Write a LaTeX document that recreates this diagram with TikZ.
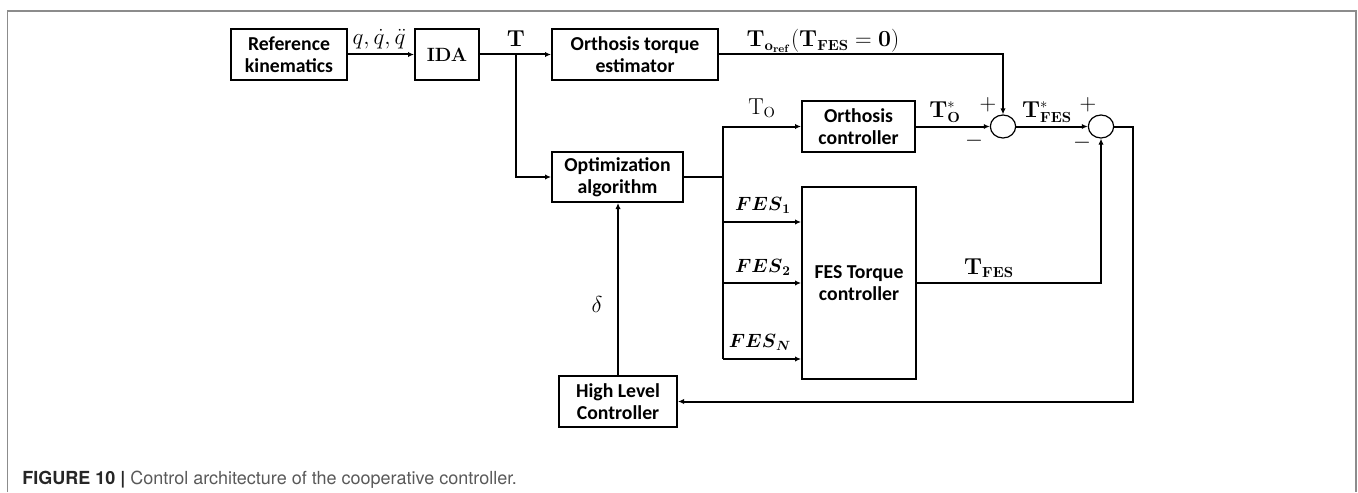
\documentclass[tikz,border=0pt]{standalone}
\usepackage[fleqn]{amsmath}
\usepackage{amssymb}
\usepackage[no-math]{fontspec}
\setmainfont{Carlito}
\newfontfamily\captionfont{TeX Gyre Heros}
\usetikzlibrary{calc,arrows.meta,shapes.geometric}

\begin{document}
\begin{tikzpicture}[x=0.75pt,y=-0.75pt,
    block/.style={draw,line width=1.5pt,inner sep=0pt,align=center,
      font=\fontsize{14.8}{16.5}\selectfont\bfseries,minimum height=38.25pt},
    sumnode/.style={draw,ellipse,line width=0.9pt,inner sep=0pt,
      minimum width=19pt,minimum height=17.25pt},
    wire/.style={line width=1.5pt},
    sig/.style={wire,-{Latex[length=4.5pt,width=4pt]}},
    lbl/.style={font=\fontsize{16}{19}\selectfont,inner sep=0pt}]
              \useasboundingbox (0,0) rectangle (1358,492);
              \draw[black!45,line width=1.1pt] (7.5,492) -- (7.5,11) -- (1356,11) -- (1356,492);

              \node[block,minimum width=87pt]                        (refkin)  at (289,54.5)  {Reference\\kinematics};
              \node[block,minimum width=48pt,font=\fontsize{15.5}{18}\selectfont] (ida) at (447,54.5) {$\mathbf{IDA}$};
              \node[block,minimum width=124.5pt]                     (torqest) at (635,54.5)  {Orthosis torque\\estimator};
              \node[block,minimum width=98.25pt,minimum height=37.5pt] (optim) at (617.5,177) {Optimization\\algorithm};
              \node[block,minimum width=84.75pt]                     (orthctl) at (858.5,126.5) {Orthosis\\controller};
              \node[block,minimum width=85.5pt,minimum height=144pt] (fesctl)  at (859,283)   {FES Torque\\controller};
              \node[block,minimum width=88.5pt]                      (hlc)     at (618,401.5) {High Level\\Controller};
              \node[sumnode] (sumo) at (1003,126.5) {};
              \node[sumnode] (sumf) at (1101,126.5) {};

              \coordinate (tsplit) at (516,54.5);
              \coordinate (bus)    at (723,177);
              \coordinate (fbk)    at (1133,401.5);
              \foreach \n/\y in {1/222,2/283,N/359} {\coordinate (fes\n) at (723,\y);};

              \path (refkin)  edge[sig] (ida)
                    (ida)     edge[sig] (torqest)
                    (orthctl) edge[sig] (sumo)
                    (sumo)    edge[sig] (sumf)
                    (optim)   edge[wire] (bus)
                    (bus)     edge[wire] (fesN);
              \draw[sig] (tsplit) |- (optim.west);
              \draw[sig] (torqest.east) -| (sumo.north);
              \draw[sig] (bus) |- (orthctl.west);
              \foreach \n in {1,2,N} {\draw[sig] (fes\n) -- (fes\n -| fesctl.west);};
              \draw[sig] (fesctl.east) -| (sumf.south);
              \draw[sig] (sumf.east) -| (fbk) -- (hlc.east);
              \draw[sig] (hlc.north) -- (hlc.north |- optim.south);

              \node[lbl] (qlbl)  at (379,39)   {$q,\dot{q},\ddot{q}$};
              \node[lbl] (tlbl)  at (516,39)   {$\mathbf{T}$};
              \node[lbl] (orefl) at (823,41)   {$\mathbf{T}_{\mathbf{o}_{\mathbf{ref}}}(\mathbf{T}_{\mathbf{FES}}=\mathbf{0})$};
              \node[lbl] (tol)   at (762,108)  {$\mathrm{T}_{\mathrm{O}}$};
              \node[lbl] (tosl)  at (945,112)  {$\mathbf{T}_{\mathbf{O}}^{*}$};
              \node[lbl] (tfsl)  at (1047,112) {$\mathbf{T}_{\mathbf{FES}}^{*}$};
              \node[lbl] (tfl)   at (989,268)  {$\mathbf{T}_{\mathbf{FES}}$};
              \node[lbl] (dlbl)  at (597,304)  {$\delta$};
              \foreach \n/\x/\y in {1/763/205,2/763/267,N/760/342} {\node[lbl,font=\fontsize{14}{17}\selectfont] (fesl\n) at (\x,\y) {$\boldsymbol{FES}_{\boldsymbol{\n}}$};};
              \foreach \s/\x/\y in {+/988/105,-/974/141,+/1088/105,-/1082/143} {\node[lbl] at (\x,\y) {$\s$};};

              \node[anchor=base west,inner sep=0pt,font=\captionfont\fontsize{13.5}{16}\selectfont,text=black!65]
                (caption) at (22,484) {{\bfseries\color{black!85}FIGURE 10 |} Control architecture of the cooperative controller.};
            \end{tikzpicture}
\end{document}
